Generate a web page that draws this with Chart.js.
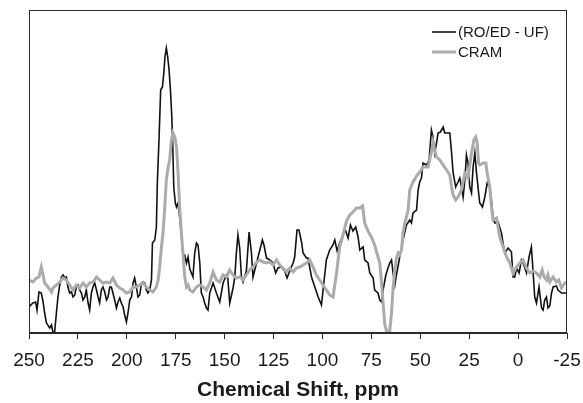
<!DOCTYPE html>
<html>
<head>
<meta charset="utf-8">
<script src="https://cdn.jsdelivr.net/npm/chart.js@4"></script>
<style>
  html, body { margin: 0; padding: 0; background: #ffffff; }
  #wrap { width: 583px; height: 403px; }
</style>
</head>
<body>
<div id="wrap"><canvas id="c" width="583" height="403"></canvas></div>
<script>
// ---- data ----
const seriesNames = ["(RO/ED - UF)", "CRAM"];
const xTickValues = [250, 225, 200, 175, 150, 125, 100, 75, 50, 25, 0, -25];

// (RO/ED - UF): chemical shift (ppm) and intensity (arbitrary units)
const roedPpm = [
  250.0,248.0,246.6,245.9,244.9,243.7,242.8,242.0,241.1,239.4,
  238.5,237.7,236.9,236.0,235.2,234.3,233.4,232.6,231.7,230.9,
  230.1,229.2,228.3,227.5,226.6,225.8,224.9,224.1,223.2,222.4,
  221.5,220.7,219.8,219.0,218.1,217.3,216.4,215.5,214.7,213.9,
  213.0,212.2,211.3,210.4,209.6,208.7,207.9,207.1,206.2,205.3,
  204.5,203.6,202.8,201.9,201.1,200.2,199.4,198.5,197.6,196.8,
  196.0,195.1,194.3,193.4,192.5,191.7,190.8,190.0,189.2,188.3,
  187.4,186.9,185.7,184.9,184.4,183.5,182.7,181.8,181.1,180.5,
  179.8,179.1,178.4,177.7,177.0,176.5,176.0,175.2,174.6,173.8,
  173.0,172.2,171.3,170.4,169.5,168.7,167.8,167.0,166.2,165.3,
  164.4,163.6,162.7,161.9,161.0,160.2,159.3,158.5,157.6,155.9,
  154.2,152.5,150.8,149.1,148.4,147.4,145.7,144.8,144.0,143.2,
  142.3,141.4,140.6,138.9,137.5,136.3,135.5,133.7,132.0,130.7,
  129.9,128.6,126.9,125.3,123.9,122.7,121.0,119.3,118.1,116.7,
  115.0,114.2,113.0,112.0,110.7,109.9,108.2,107.4,105.6,103.9,
  102.2,100.5,99.3,98.0,96.3,94.6,93.7,92.5,91.2,89.5,
  88.6,86.9,85.7,84.4,83.0,81.8,80.9,79.2,78.4,76.7,
  75.8,74.1,73.3,71.6,70.7,69.8,69.0,67.6,66.5,65.6,
  64.7,63.9,63.0,62.2,60.5,58.8,57.1,55.4,54.5,53.7,
  51.9,51.1,50.3,49.4,48.6,46.8,45.5,44.3,43.5,42.6,
  41.7,40.9,39.7,38.3,37.5,35.8,34.9,34.0,33.2,31.9,
  30.7,29.8,28.9,28.1,27.2,26.4,25.6,24.7,23.8,23.0,
  22.1,21.3,20.5,19.6,18.2,17.0,15.8,14.5,13.6,12.8,
  11.9,10.2,8.5,7.7,6.8,5.1,3.4,2.6,1.7,0.8,
  -0.5,-1.7,-2.6,-4.3,-5.6,-6.8,-7.7,-8.5,-9.4,-10.7,
  -12.0,-12.8,-13.6,-14.5,-15.3,-16.2,-17.1,-17.9,-19.6,-20.4,
  -22.2,-24.7
];
const roedIntensity = [
  26,30,31,23,41,40,31,20,10,5,
  8,0,1,20,36,48,56,58,55,56,
  46,40,41,36,38,46,48,43,40,33,
  36,43,30,23,40,46,50,43,36,30,
  43,46,41,33,36,46,46,40,33,25,
  31,35,30,26,18,11,20,33,36,50,
  55,46,36,38,50,51,50,43,40,43,
  53,90,93,106,150,196,243,246,260,276,
  285,276,263,243,216,186,146,130,126,130,
  116,100,78,78,70,76,64,60,56,80,
  90,88,70,40,36,30,25,23,40,50,
  40,31,50,58,55,30,45,56,80,98,
  85,56,51,62,101,80,56,70,83,93,
  88,75,73,70,60,65,66,62,55,62,
  70,76,103,103,91,80,75,75,56,46,
  36,28,50,73,83,88,93,82,90,98,
  105,95,108,102,106,96,83,86,73,70,
  60,55,43,40,33,31,43,58,65,70,
  73,60,48,58,76,93,108,113,110,120,
  123,143,151,155,170,168,173,203,196,180,
  190,200,201,206,200,200,200,180,160,146,
  151,155,146,136,153,178,170,146,140,166,
  180,161,146,130,126,136,150,146,133,116,
  110,111,100,90,80,85,81,56,56,65,
  60,73,70,60,76,86,60,36,30,46,
  25,23,33,36,25,27,40,46,47,43,
  40,40
];

// CRAM: chemical shift (ppm) and intensity (arbitrary units)
const cramPpm = [
  250.0,248.0,246.2,244.9,243.7,242.8,242.0,240.3,238.5,237.7,
  236.0,234.3,232.6,230.9,229.2,227.5,225.8,224.1,222.4,220.7,
  219.0,217.3,215.5,213.9,212.2,210.4,208.7,207.1,205.3,203.6,
  201.9,200.2,198.5,196.8,195.1,193.4,191.7,190.0,188.3,186.6,
  184.9,184.0,183.2,182.3,181.5,180.6,179.8,178.9,178.1,177.2,
  176.4,175.5,174.6,173.8,173.0,172.1,171.3,170.4,169.5,168.7,
  167.8,166.2,164.4,162.7,161.0,159.3,157.6,155.9,154.2,152.5,
  150.8,149.1,147.4,145.7,144.0,142.3,140.6,138.9,137.2,135.5,
  133.7,132.0,130.3,128.6,126.9,125.3,123.5,121.8,120.1,118.4,
  116.7,115.0,113.3,111.6,109.9,108.2,106.5,104.8,103.1,101.4,
  99.7,98.0,96.3,94.6,92.8,91.2,89.5,87.7,86.0,84.4,
  82.6,80.9,79.5,78.4,76.7,75.0,73.3,71.6,70.7,69.8,
  69.0,68.1,67.3,65.6,64.7,63.9,63.0,62.2,61.3,60.5,
  59.6,58.8,57.9,57.1,56.2,55.4,53.7,51.9,50.3,48.6,
  46.0,44.3,43.5,42.6,41.7,40.0,38.3,36.6,34.9,34.0,
  33.2,31.9,30.7,28.9,27.2,25.6,23.8,22.6,21.6,20.9,
  20.2,19.6,17.9,16.5,15.8,14.5,13.6,12.8,11.0,9.4,
  7.7,5.9,4.2,2.6,0.8,-0.9,-2.6,-4.3,-6.0,-7.7,
  -9.4,-11.1,-12.3,-13.1,-14.5,-15.3,-16.2,-17.9,-19.6,-20.8,
  -22.2,-23.9,-24.7
];
const cramIntensity = [
  53,51,55,56,66,58,50,46,41,45,
  48,51,55,53,48,43,48,45,50,46,
  50,51,56,53,50,51,50,55,48,45,
  43,40,41,46,46,48,50,46,43,41,
  46,53,66,86,100,126,153,166,173,193,
  200,196,186,160,126,100,80,56,46,48,
  43,41,46,48,46,43,50,61,53,51,
  58,56,63,58,55,56,53,58,63,66,
  71,73,71,70,71,68,73,68,65,61,
  65,61,65,66,68,70,73,66,58,53,
  48,43,38,36,60,86,98,112,118,121,
  125,125,127,110,102,96,88,76,70,50,
  30,8,2,2,20,45,63,75,80,78,
  83,100,110,116,123,143,151,157,161,166,
  166,181,191,183,176,173,168,163,158,146,
  138,133,136,143,160,155,180,193,196,190,
  170,168,170,170,160,146,126,113,115,96,
  86,76,70,60,66,70,73,65,60,62,
  60,56,63,57,53,58,51,56,51,53,
  45,50,51
];

const toPoints = (xs, ys) => xs.map((x, i) => ({ x: x, y: ys[i] }));

const FONT = '"Liberation Sans", Arial, Helvetica, sans-serif';

const framePlugin = {
  id: 'frame',
  afterDraw(chart) {
    const { ctx, chartArea: a } = chart;
    ctx.save();
    ctx.strokeStyle = '#2b2b2b';
    ctx.lineWidth = 1;
    const l = Math.round(a.left) + 0.5, t = Math.round(a.top) + 0.5;
    const r = Math.round(a.right) - 0.5, b = Math.round(a.bottom) - 0.5;
    ctx.strokeRect(l, t, r - l, b - t);

    // legend (inside the plot, top right)
    const ds = chart.data.datasets;
    const order = [1, 0];
    ctx.font = '15px ' + FONT;
    ctx.textBaseline = 'middle';
    ctx.textAlign = 'left';
    const x0 = a.right - 135, lineLen = 24, y0 = a.top + 22, gap = 20;
    order.forEach((di, k) => {
      const d = ds[di];
      const y = y0 + k * gap;
      ctx.strokeStyle = d.borderColor;
      ctx.lineWidth = d.borderWidth;
      ctx.beginPath();
      ctx.moveTo(x0, y);
      ctx.lineTo(x0 + lineLen, y);
      ctx.stroke();
      ctx.fillStyle = '#1a1a1a';
      ctx.fillText(d.label, x0 + lineLen + 2, y + 1);
    });
    ctx.restore();
  }
};

new Chart(document.getElementById('c'), {
  type: 'line',
  data: {
    datasets: [
      {
        label: seriesNames[1],
        data: toPoints(cramPpm, cramIntensity),
        borderColor: '#ababab',
        borderWidth: 3,
        pointRadius: 0,
        tension: 0,
        order: 0
      },
      {
        label: seriesNames[0],
        data: toPoints(roedPpm, roedIntensity),
        borderColor: '#111111',
        borderWidth: 1.6,
        pointRadius: 0,
        tension: 0,
        order: 1
      }
    ]
  },
  options: {
    responsive: false,
    animation: false,
    devicePixelRatio: 1,
    layout: { padding: { left: 29, right: 16, top: 10, bottom: 0 } },
    plugins: { legend: { display: false }, tooltip: { enabled: false } },
    scales: {
      x: {
        type: 'linear',
        reverse: true,
        min: -25,
        max: 250,
        afterBuildTicks(scale) { scale.ticks = xTickValues.map(v => ({ value: v })); },
        afterFit(scale) {
          scale.height = 70;
          scale.paddingLeft = 16;
          scale.paddingRight = 14;
        },
        ticks: {
          color: '#1a1a1a',
          font: { family: FONT, size: 19 },
          padding: 10,
          maxRotation: 0,
          autoSkip: false
        },
        grid: {
          drawOnChartArea: false,
          drawTicks: true,
          tickLength: 6,
          color: '#2b2b2b',
          lineWidth: 1
        },
        border: { display: true, color: '#2b2b2b', width: 1 },
        title: {
          display: true,
          text: 'Chemical Shift, ppm',
          color: '#1a1a1a',
          font: { family: FONT, size: 21, weight: 'bold' },
          padding: { top: 6, bottom: 0 }
        }
      },
      y: {
        display: false,
        min: 0,
        max: 323
      }
    }
  },
  plugins: [framePlugin]
});
</script>
</body>
</html>
